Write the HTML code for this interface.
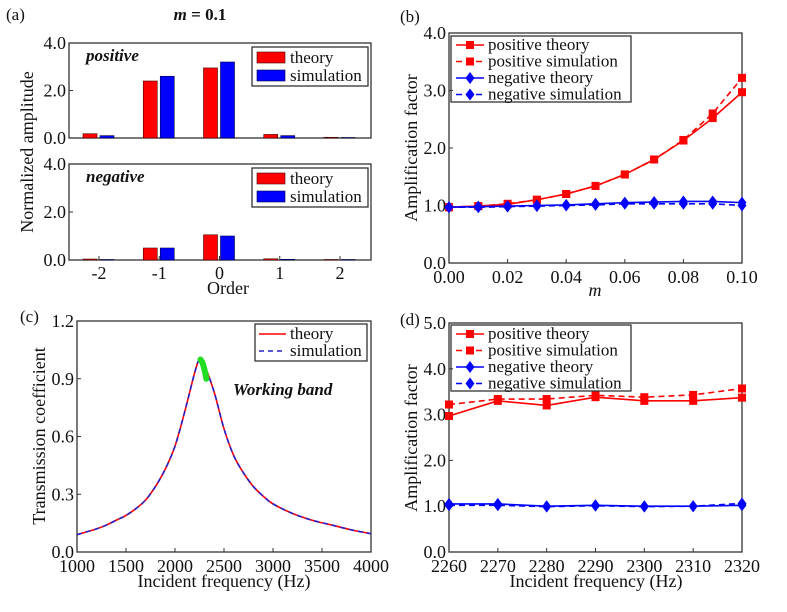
<!DOCTYPE html>
<html><head><meta charset="utf-8"><style>
body{margin:0;background:#fff;}
svg,svg text{font-family:"Liberation Serif","Times New Roman",serif;}
</style></head><body>
<svg id="fig" width="787" height="607" viewBox="0 0 787 607" font-family="Liberation Serif, serif"></svg>
<script>
// Panel (a)
const orders=["-2","-1","0","1","2"];
const posTheory=[0.18,2.4,2.95,0.15,0.03];
const posSim=[0.1,2.6,3.2,0.1,0.02];
const negTheory=[0.04,0.5,1.05,0.05,0.02];
const negSim=[0.02,0.5,1.0,0.03,0.02];
const aTicks=[0,2,4];
// Panel (b)
const mVals=[0,0.01,0.02,0.03,0.04,0.05,0.06,0.07,0.08,0.09,0.1];
const bPosTheory=[0.97,0.99,1.02,1.1,1.2,1.34,1.54,1.8,2.13,2.52,2.97];
const bPosSim=[0.97,0.99,1.03,1.1,1.2,1.34,1.54,1.8,2.14,2.6,3.22];
const bNegTheory=[0.97,0.98,0.99,1.0,1.01,1.03,1.05,1.06,1.07,1.07,1.05];
const bNegSim=[0.97,0.97,0.98,0.99,1.0,1.01,1.03,1.03,1.03,1.03,1.0];
const bYTicks=[0,1,2,3,4];
const bXTicks=[0,0.02,0.04,0.06,0.08,0.1];
// Panel (c)
const cFreq=[1000,1100,1200,1300,1400,1500,1600,1700,1800,1900,2000,2100,2200,2250,2300,2400,2500,2600,2700,2800,2900,3000,3200,3400,3600,3800,4000];
const cTheory=[0.09,0.105,0.12,0.14,0.165,0.19,0.225,0.27,0.34,0.43,0.55,0.73,0.93,1.0,0.97,0.83,0.64,0.5,0.41,0.34,0.29,0.25,0.2,0.165,0.14,0.115,0.095];
const cSim=[0.09,0.105,0.12,0.14,0.165,0.19,0.225,0.27,0.34,0.43,0.55,0.73,0.93,1.0,0.97,0.83,0.64,0.5,0.41,0.34,0.29,0.25,0.2,0.165,0.14,0.115,0.095];
const bandFreq=[2260,2280,2300,2320];
const bandVal=[1.0,0.985,0.95,0.9];
const cYTicks=[0,0.3,0.6,0.9,1.2];
const cXTicks=[1000,1500,2000,2500,3000,3500,4000];
// Panel (d)
const dFreq=[2260,2270,2280,2290,2300,2310,2320];
const dPosTheory=[2.97,3.3,3.2,3.38,3.3,3.3,3.37];
const dPosSim=[3.22,3.34,3.34,3.42,3.38,3.43,3.57];
const dNegTheory=[1.05,1.05,1.0,1.02,1.0,1.0,1.02];
const dNegSim=[1.02,1.02,0.99,1.01,0.99,1.0,1.06];
const dYTicks=[0,1,2,3,4,5];
const dXTicks=[2260,2270,2280,2290,2300,2310,2320];

const NS="http://www.w3.org/2000/svg";
const svg=document.getElementById('fig');
function el(tag,attrs,parent,text){const e=document.createElementNS(NS,tag);for(const k in attrs)e.setAttribute(k,attrs[k]);if(text!==undefined)e.textContent=text;(parent||svg).appendChild(e);return e;}
function lin(d0,d1,r0,r1){return v=>r0+(v-d0)/(d1-d0)*(r1-r0);}

function frame(x0,y0,x1,y1,name){
  const r=el('rect',{x:x0,y:y0,width:x1-x0,height:y1-y0,fill:'none',stroke:'#333','stroke-width':1.3});
  
  
}
function txt(x,y,s,opt,name){
  const t=el('text',Object.assign({x:x,y:y,'font-size':17,fill:'#111','font-family':'Liberation Serif, serif'},opt||{}),svg,s);
  
  
  return t;
}
function yTicks(ticks,sy,x0,fmt,name){
  ticks.forEach(v=>{
    el('line',{x1:x0,x2:x0+4,y1:sy(v),y2:sy(v),stroke:'#333','stroke-width':1});
    txt(x0-3,sy(v)+6,fmt(v),{'text-anchor':'end','font-size':18},name);
  });
}
function xTicks(ticks,sx,y0,fmt,name){
  ticks.forEach(v=>{
    el('line',{x1:sx(v),x2:sx(v),y1:y0,y2:y0-4,stroke:'#333','stroke-width':1});
    txt(sx(v),y0+20,fmt(v),{'text-anchor':'middle','font-size':18},name);
  });
}
function smoothPath(pts){
  let d='M'+pts[0][0]+','+pts[0][1];
  for(let i=0;i<pts.length-1;i++){
    const p0=pts[Math.max(0,i-1)],p1=pts[i],p2=pts[i+1],p3=pts[Math.min(pts.length-1,i+2)];
    const c1=[p1[0]+(p2[0]-p0[0])/6,p1[1]+(p2[1]-p0[1])/6];
    const c2=[p2[0]-(p3[0]-p1[0])/6,p2[1]-(p3[1]-p1[1])/6];
    d+=' C'+c1[0]+','+c1[1]+' '+c2[0]+','+c2[1]+' '+p2[0]+','+p2[1];
  }
  return d;
}

// ---- Panel (a)
txt(6,20,'(a)',{},'panel-a-label');
const mt=txt(200,20,'',{'font-weight':'bold','text-anchor':'middle'},'panel-a-title');
mt.innerHTML='<tspan font-style="italic">m</tspan> = 0.1';
const ax0=69,ax1=371;
const sxA=lin(-2,2,99,340);
function barPanel(y0,y1,th,sim,label,nm){
  const sy=lin(0,4,y1,y0);
  frame(ax0,y0,ax1,y1,nm+'-frame');
  yTicks(aTicks,sy,ax0,v=>v.toFixed(1),nm+'-y-tick');
  orders.forEach((o,i)=>{
    const cx=sxA(i-2);
    const r1=el('rect',{x:cx-16,y:sy(th[i]),width:14,height:y1-sy(th[i]),fill:'#f00',stroke:'#400','stroke-width':0.6});
    
    
    const r2=el('rect',{x:cx+1,y:sy(sim[i]),width:14,height:y1-sy(sim[i]),fill:'#00f',stroke:'#004','stroke-width':0.6});
    
    
  });
  txt(86,y0+18,label,{'font-weight':'bold','font-style':'italic'},nm+'-label');
  frame(252,y0+4,368,y0+43,nm+'-legend');
  el('rect',{x:257,y:y0+9,width:28,height:11,fill:'#f00',stroke:'#400','stroke-width':0.6});
  txt(290,y0+20,'theory',{},nm+'-legend-theory');
  el('rect',{x:257,y:y0+27,width:28,height:11,fill:'#00f',stroke:'#004','stroke-width':0.6});
  txt(290,y0+38,'simulation',{},nm+'-legend-simulation');
}
barPanel(43,138,posTheory,posSim,'positive','positive-panel');
barPanel(164,260,negTheory,negSim,'negative','negative-panel');
orders.forEach((o,i)=>{
  el('line',{x1:sxA(i-2),x2:sxA(i-2),y1:260,y2:256,stroke:'#333'});
  txt(sxA(i-2),279,o,{'text-anchor':'middle','font-size':18},'x-tick-order');
});
txt(228,294,'Order',{'text-anchor':'middle','font-size':18},'x-axis-title-order');
txt(0,0,'Normalized amplitude',{'text-anchor':'middle','font-size':18,transform:'translate(33,152) rotate(-90)'},'y-axis-title-a');

// ---- line panel helper
function marker(x,y,shape,color,nm){
  let m;
  if(shape==='sq') m=el('rect',{x:x-4,y:y-4,width:8,height:8,fill:color});
  else m=el('polygon',{points:`${x},${y-6} ${x+4.5},${y} ${x},${y+6} ${x-4.5},${y}`,fill:color});
  
  
}
function series(xs,ys,sx,sy,color,dash,shape,nm){
  const p=el('polyline',{points:xs.map((x,i)=>sx(x)+','+sy(ys[i])).join(' '),fill:'none',stroke:color,'stroke-width':1.6,'stroke-dasharray':dash?'6,4':'none'});
  
  
  xs.forEach((x,i)=>marker(sx(x),sy(ys[i]),shape,color,nm+'-marker'));
}
function legend4(x0,y0,nm){
  frame(x0,y0,x0+180,y0+66,nm+'-legend');
  const items=[['positive theory','#f00',false,'sq'],['positive simulation','#f00',true,'sq'],['negative theory','#00f',false,'d'],['negative simulation','#00f',true,'d']];
  items.forEach((it,i)=>{
    const y=y0+9+i*16.5;
    el('line',{x1:x0+5,x2:x0+33,y1:y,y2:y,stroke:it[1],'stroke-width':1.6,'stroke-dasharray':it[2]?'6,4':'none'});
    marker(x0+19,y,it[3],it[1],nm+'-legend-marker');
    txt(x0+37,y+5,it[0],{},nm+'-legend-entry');
  });
}

// ---- Panel (b)
const bx0=449,bx1=742,by0=33,by1=263;
const sxB=lin(0,0.1,bx0,bx1),syB=lin(0,4,by1,by0);
txt(400,22,'(b)',{},'panel-b-label');
frame(bx0,by0,bx1,by1,'panel-b-frame');
yTicks(bYTicks,syB,bx0,v=>v.toFixed(1),'b-y-tick');
xTicks(bXTicks,sxB,by1,v=>v.toFixed(2),'b-x-tick');
series(mVals,bPosSim,sxB,syB,'#f00',true,'sq','b-positive-simulation');
series(mVals,bPosTheory,sxB,syB,'#f00',false,'sq','b-positive-theory');
series(mVals,bNegSim,sxB,syB,'#00f',true,'d','b-negative-simulation');
series(mVals,bNegTheory,sxB,syB,'#00f',false,'d','b-negative-theory');
legend4(451,36,'b');
txt(595,296,'m',{'text-anchor':'middle','font-style':'italic','font-size':18},'x-axis-title-m');
txt(0,0,'Amplification factor',{'text-anchor':'middle','font-size':18,transform:'translate(417,148) rotate(-90)'},'y-axis-title-b');

// ---- Panel (c)
const cx0=77,cx1=371,cy0=321,cy1=552;
const sxC=lin(1000,4000,cx0,cx1),syC=lin(0,1.2,cy1,cy0);
txt(20,322,'(c)',{},'panel-c-label');
frame(cx0,cy0,cx1,cy1,'panel-c-frame');
yTicks(cYTicks,syC,cx0,v=>v.toFixed(1),'c-y-tick');
xTicks(cXTicks,sxC,cy1,v=>String(v),'c-x-tick');
const ct=el('path',{d:smoothPath(cFreq.map((f,i)=>[sxC(f),syC(cTheory[i])])),fill:'none',stroke:'#f00','stroke-width':1.6});


const cs=el('path',{d:smoothPath(cFreq.map((f,i)=>[sxC(f),syC(cSim[i])])),fill:'none',stroke:'#22c','stroke-width':1.6,'stroke-dasharray':'5,4'});


const band=el('polyline',{points:bandFreq.map((f,i)=>sxC(f)+','+syC(bandVal[i])).join(' '),fill:'none',stroke:'#2d2','stroke-width':6,'stroke-linecap':'round'});


txt(233,395,'Working band',{'font-weight':'bold','font-style':'italic'},'working-band-label');
frame(255,324,367,361,'c-legend');
el('line',{x1:259,x2:286,y1:334,y2:334,stroke:'#f00','stroke-width':1.6});
txt(290,339,'theory',{},'c-legend-theory');
el('line',{x1:259,x2:286,y1:351,y2:351,stroke:'#22c','stroke-width':1.6,'stroke-dasharray':'5,4'});
txt(290,356,'simulation',{},'c-legend-simulation');
txt(224,587,'Incident frequency (Hz)',{'text-anchor':'middle','font-size':18},'x-axis-title-c');
txt(0,0,'Transmission coefficient',{'text-anchor':'middle','font-size':18,transform:'translate(45,436) rotate(-90)'},'y-axis-title-c');

// ---- Panel (d)
const dx0=449,dx1=742,dy0=323,dy1=552;
const sxD=lin(2260,2320,dx0,dx1),syD=lin(0,5,dy1,dy0);
txt(400,325,'(d)',{},'panel-d-label');
frame(dx0,dy0,dx1,dy1,'panel-d-frame');
yTicks(dYTicks,syD,dx0,v=>v.toFixed(1),'d-y-tick');
xTicks(dXTicks,sxD,dy1,v=>String(v),'d-x-tick');
series(dFreq,dPosSim,sxD,syD,'#f00',true,'sq','d-positive-simulation');
series(dFreq,dPosTheory,sxD,syD,'#f00',false,'sq','d-positive-theory');
series(dFreq,dNegSim,sxD,syD,'#00f',true,'d','d-negative-simulation');
series(dFreq,dNegTheory,sxD,syD,'#00f',false,'d','d-negative-theory');
legend4(451,325,'d');
txt(596,587,'Incident frequency (Hz)',{'text-anchor':'middle','font-size':18},'x-axis-title-d');
txt(0,0,'Amplification factor',{'text-anchor':'middle','font-size':18,transform:'translate(417,438) rotate(-90)'},'y-axis-title-d');
</script>
</body></html>
